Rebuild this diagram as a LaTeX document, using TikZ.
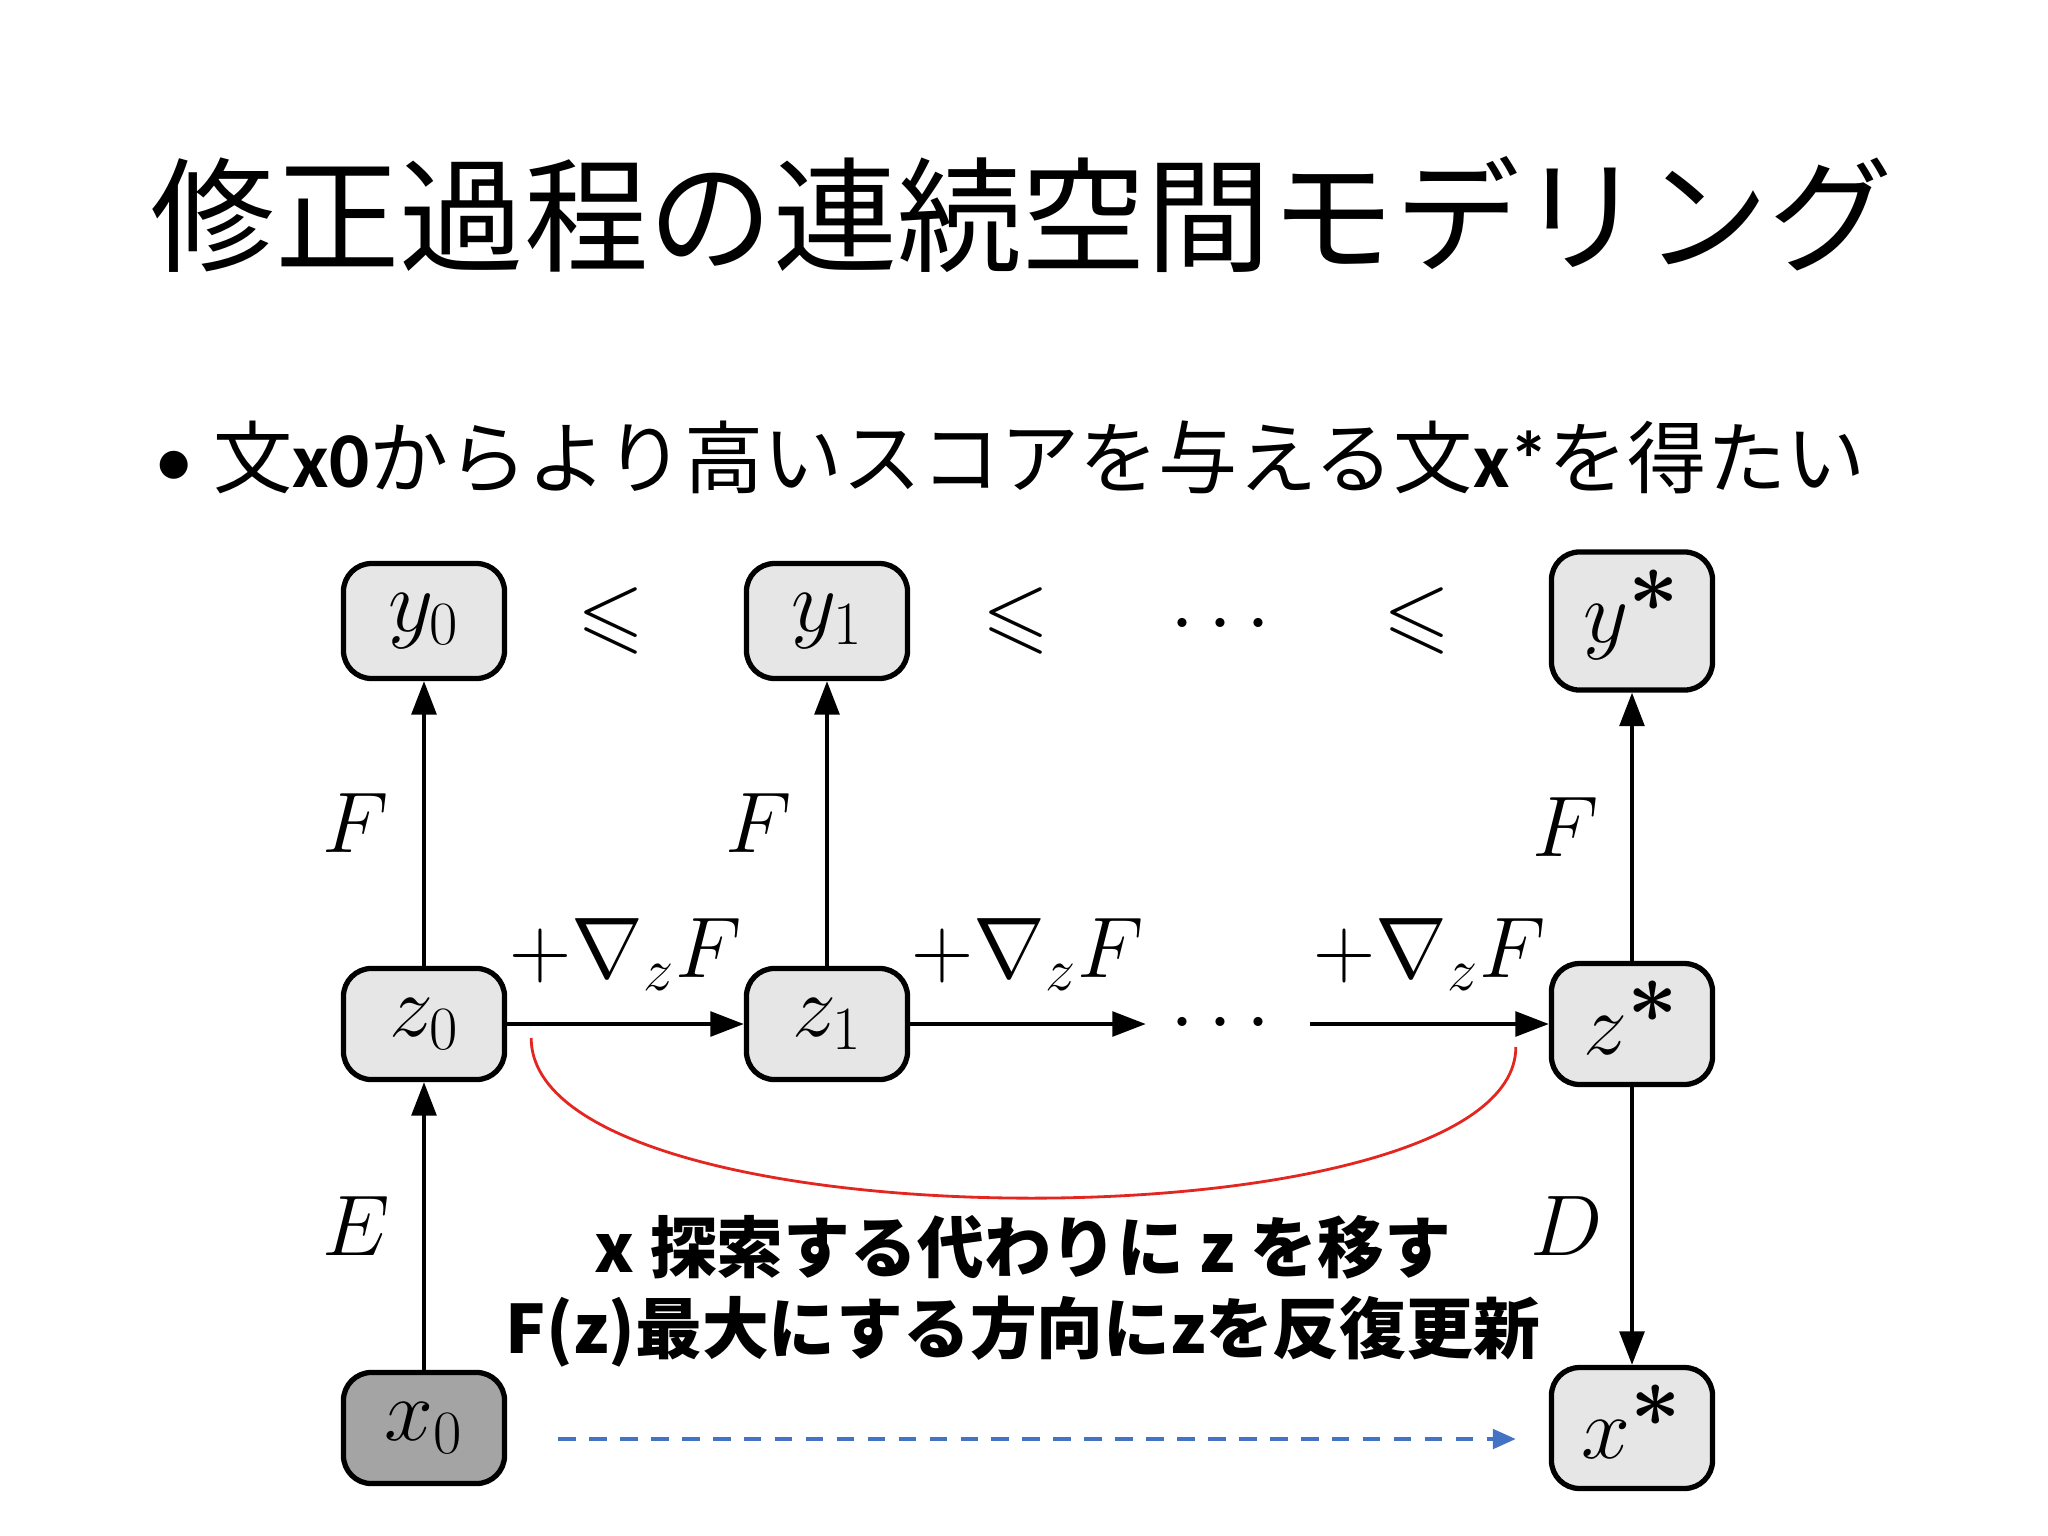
\RequirePackage{fix-cm}
\documentclass[tikz,border=0pt]{standalone}
\usepackage{amsmath,amssymb}
\usepackage[no-math]{fontspec}
\usepackage{xcolor}
\usepackage{graphicx}
\usepackage{tikz}
\usetikzlibrary{calc,arrows.meta}
\newfontfamily\jpfont{Noto Sans CJK JP}
\newfontfamily\latfont{Carlito}
\definecolor{boxgray}{HTML}{E6E6E6}
\definecolor{ingray}{HTML}{A4A4A4}
\definecolor{arcred}{HTML}{E3261F}
\definecolor{dashblue}{HTML}{4472C4}
\newcommand\bigast{\raisebox{0pt}[0.33em][0pt]{$\boldsymbol{\ast}$}}
\tikzset{
  head/.style={font=\jpfont\fontsize{35.4}{40}\selectfont, inner sep=0pt},
  point/.style={font=\jpfont\fontsize{22.5}{27}\selectfont, inner sep=0pt},
  box/.style={draw=black, line width=1.5pt, rounded corners=0.28cm, fill=boxgray,
    minimum width=1.61cm, inner xsep=0.2cm, inner ysep=0.3cm, font=\fontsize{25}{30}\selectfont},
  lab/.style={font=\fontsize{24.5}{29}\selectfont},
  arr/.style={draw=black, line width=1.1pt, -{Triangle[length=9.5pt,width=7pt]}},
  redarc/.style={draw=arcred, line width=0.8pt},
  dasharr/.style={draw=dashblue, line width=1.1pt, dash pattern=on 5pt off 3.8pt,
    -{Triangle[length=6.5pt,width=5.5pt]}},
  note/.style={font=\jpfont\bfseries\fontsize{19}{23}\selectfont, inner sep=0pt},
}
\begin{document}
\begin{tikzpicture}[x=0.01cm,y=-0.01cm]
  \useasboundingbox (0,0) rectangle (2048,1536);
  \node[head, anchor=base] (ttl) at (1022,262) {修正過程の連続空間モデリング};
  \node[point, anchor=base] (bul) at (174,487) {\latfont •};
  \node[point, anchor=base west] (goal) at (213,487) {文{\latfont\bfseries x0}からより高いスコアを与える文{\latfont\bfseries x*}を得たい};
  \node[box] (y0) at (424,621) {$y_0$};
  \node[box] (y1) at (827,621) {$y_1$};
  \node[box] (ys) at (1632,621) {$y^{\bigast}$};
  \node[box] (z0) at (424,1024) {$z_0$};
  \node[box] (z1) at (827,1024) {$z_1$};
  \node[box] (zs) at (1632,1024) {$z^{\bigast}$};
  \node[box, fill=ingray] (x0) at (424,1428) {$x_0$};
  \node[box] (xs) at (1632,1428) {$x^{\bigast}$};
  \node[lab] (le1) at (611,621) {$\leqslant$};
  \node[lab] (le2) at (1016,621) {$\leqslant$};
  \node[lab] (dtop) at (1228,625) {$\cdots$};
  \node[lab] (le3) at (1417,621) {$\leqslant$};
  \node[lab, minimum width=1.63cm, inner sep=0pt] (dz) at (1228,1024) {\raisebox{-0.1em}{$\cdots$}};
  \draw[arr] (x0) -- node[lab, left=0.2cm] {$E$} (z0);
  \draw[arr] (z0) -- node[lab, left=0.22cm] {$F$} (y0);
  \draw[arr] (z1) -- node[lab, left=0.22cm] {$F$} (y1);
  \draw[arr] (zs) -- node[lab, left=0.2cm] {$F$} (ys);
  \draw[arr] (zs) -- node[lab, left=0.15cm] {$D$} (xs);
  \draw[arr] (z0) -- node[lab, above=0.2cm] {$+\nabla_z F$} (z1);
  \draw[arr] (z1) -- node[lab, above=0.2cm] {$+\nabla_z F$} (dz);
  \draw[arr] (dz) -- node[lab, above=0.2cm] {$+\nabla_z F$} (zs);
  \draw[redarc] ($(z0.east)+(24,14)$) .. controls +(0,212) and +(0,203) .. ($(zs.west)+(-33,23)$);
  \draw[dasharr, shorten <=0.51cm, shorten >=0.33cm] ([yshift=-0.11cm]x0.east) -- ([yshift=-0.11cm]xs.west);
  \node[note, anchor=base] (note1) at (1023,1272) {x 探索する代わりに z を移す};
  \node[note, anchor=base] (note2) at (1023,1353) {F(z)最大にする方向にzを反復更新};
\end{tikzpicture}
\end{document}
